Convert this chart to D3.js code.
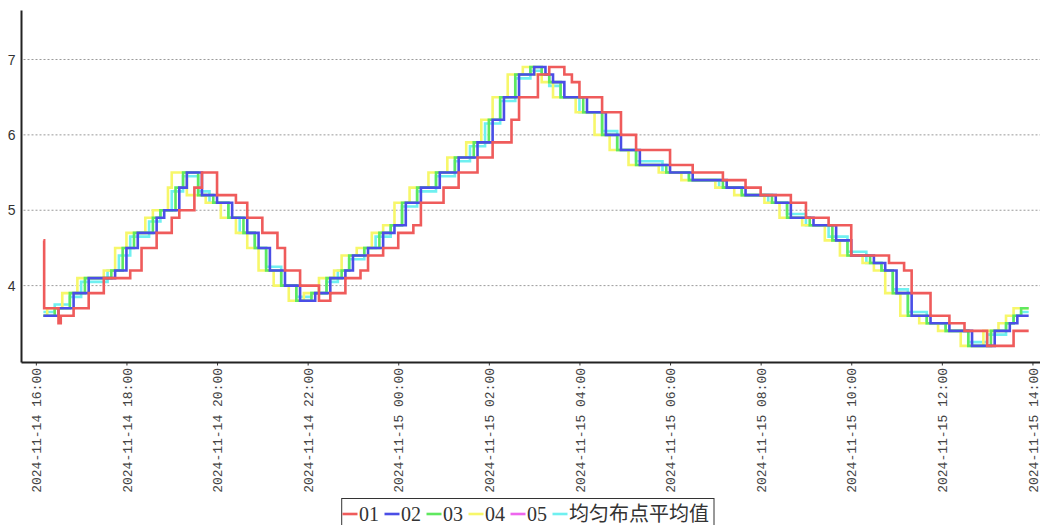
<!DOCTYPE html>
<html>
<head>
<meta charset="utf-8">
<script src="https://cdn.jsdelivr.net/npm/d3@7"></script>
<style>
  html, body { margin: 0; padding: 0; background: #fff; }
  svg { display: block; }
</style>
</head>
<body>
<div id="chart"></div>
<script>
// Series names and colours (legend order)
const seriesNames = ["01", "02", "03", "04", "05", "均匀布点平均值"];
const seriesColors = ["#ef5b5b", "#4a4ee6", "#5fe85f", "#f7f76a", "#ee66ee", "#6ff0f0"];

// Step breakpoints: ["day HH:MM", value]
const s01 = [
  ["14 16:10", 4.6], ["14 16:11", 3.7], ["14 16:30", 3.5], ["14 16:33", 3.6], ["14 16:50", 3.7],
  ["14 17:10", 3.9], ["14 17:30", 4.1], ["14 18:05", 4.2], ["14 18:20", 4.5], ["14 18:40", 4.7],
  ["14 19:00", 4.9], ["14 19:10", 5.0], ["14 19:30", 5.3], ["14 19:40", 5.5], ["14 20:00", 5.2],
  ["14 20:25", 5.1], ["14 20:40", 4.9], ["14 21:00", 4.7], ["14 21:20", 4.5], ["14 21:30", 4.2],
  ["14 21:50", 4.0], ["14 22:15", 3.8], ["14 22:30", 3.9], ["14 22:50", 4.1], ["14 23:10", 4.2],
  ["14 23:20", 4.4], ["14 23:40", 4.5], ["15 00:00", 4.7], ["15 00:20", 4.8], ["15 00:30", 5.1],
  ["15 01:00", 5.3], ["15 01:20", 5.5], ["15 01:45", 5.7], ["15 02:05", 5.9], ["15 02:30", 6.2],
  ["15 02:40", 6.5], ["15 03:05", 6.8], ["15 03:20", 6.9], ["15 03:40", 6.8], ["15 03:50", 6.7],
  ["15 04:00", 6.5], ["15 04:30", 6.3], ["15 04:55", 6.0], ["15 05:15", 5.8], ["15 06:00", 5.6],
  ["15 06:30", 5.5], ["15 07:10", 5.4], ["15 07:40", 5.3], ["15 08:00", 5.2], ["15 08:40", 5.1],
  ["15 09:00", 4.9], ["15 09:30", 4.8], ["15 10:00", 4.4], ["15 10:50", 4.3], ["15 11:10", 4.2],
  ["15 11:20", 3.9], ["15 11:45", 3.6], ["15 12:10", 3.5], ["15 12:30", 3.4], ["15 13:00", 3.2],
  ["15 13:35", 3.4], ["15 13:55", 3.4]
];
const s02 = [
  ["14 16:10", 3.6], ["14 16:30", 3.7], ["14 16:50", 3.9], ["14 17:10", 4.1], ["14 17:45", 4.2],
  ["14 18:00", 4.5], ["14 18:15", 4.7], ["14 18:40", 4.9], ["14 18:50", 5.0], ["14 19:10", 5.3],
  ["14 19:20", 5.5], ["14 19:40", 5.2], ["14 20:00", 5.1], ["14 20:20", 4.9], ["14 20:40", 4.7],
  ["14 20:55", 4.5], ["14 21:10", 4.2], ["14 21:30", 4.0], ["14 21:50", 3.8], ["14 22:10", 3.9],
  ["14 22:30", 4.1], ["14 22:50", 4.2], ["14 23:00", 4.4], ["14 23:20", 4.5], ["14 23:40", 4.7],
  ["14 23:55", 4.8], ["15 00:10", 5.1], ["15 00:30", 5.3], ["15 00:55", 5.5], ["15 01:20", 5.7],
  ["15 01:45", 5.9], ["15 02:05", 6.2], ["15 02:20", 6.5], ["15 02:40", 6.8], ["15 03:00", 6.9],
  ["15 03:15", 6.8], ["15 03:25", 6.7], ["15 03:40", 6.5], ["15 04:10", 6.3], ["15 04:35", 6.0],
  ["15 04:55", 5.8], ["15 05:20", 5.6], ["15 06:00", 5.5], ["15 06:30", 5.4], ["15 07:15", 5.3],
  ["15 07:40", 5.2], ["15 08:20", 5.1], ["15 08:40", 4.9], ["15 09:10", 4.8], ["15 09:40", 4.6],
  ["15 10:00", 4.4], ["15 10:30", 4.3], ["15 10:45", 4.2], ["15 11:00", 3.9], ["15 11:20", 3.6],
  ["15 11:45", 3.5], ["15 12:10", 3.4], ["15 12:40", 3.2], ["15 13:10", 3.4], ["15 13:30", 3.5],
  ["15 13:40", 3.6], ["15 13:55", 3.6]
];
const s03 = [
  ["14 16:10", 3.6], ["14 16:25", 3.7], ["14 16:45", 3.9], ["14 17:05", 4.1], ["14 17:40", 4.2],
  ["14 17:55", 4.5], ["14 18:10", 4.7], ["14 18:35", 4.9], ["14 18:45", 5.0], ["14 19:05", 5.3],
  ["14 19:15", 5.5], ["14 19:35", 5.2], ["14 19:55", 5.1], ["14 20:15", 4.9], ["14 20:35", 4.7],
  ["14 20:50", 4.5], ["14 21:05", 4.2], ["14 21:25", 4.0], ["14 21:45", 3.8], ["14 22:05", 3.9],
  ["14 22:25", 4.1], ["14 22:45", 4.2], ["14 22:55", 4.4], ["14 23:15", 4.5], ["14 23:35", 4.7],
  ["14 23:50", 4.8], ["15 00:05", 5.1], ["15 00:25", 5.3], ["15 00:50", 5.5], ["15 01:15", 5.7],
  ["15 01:40", 5.9], ["15 02:00", 6.2], ["15 02:15", 6.5], ["15 02:35", 6.8], ["15 02:55", 6.9],
  ["15 03:10", 6.8], ["15 03:20", 6.7], ["15 03:35", 6.5], ["15 04:05", 6.3], ["15 04:30", 6.0],
  ["15 04:50", 5.8], ["15 05:15", 5.6], ["15 05:55", 5.5], ["15 06:25", 5.4], ["15 07:10", 5.3],
  ["15 07:35", 5.2], ["15 08:15", 5.1], ["15 08:35", 4.9], ["15 09:05", 4.8], ["15 09:35", 4.6],
  ["15 09:55", 4.4], ["15 10:25", 4.3], ["15 10:40", 4.2], ["15 10:55", 3.9], ["15 11:15", 3.6],
  ["15 11:40", 3.5], ["15 12:05", 3.4], ["15 12:35", 3.2], ["15 13:05", 3.4], ["15 13:25", 3.5],
  ["15 13:35", 3.6], ["15 13:45", 3.7], ["15 13:55", 3.7]
];
const s04 = [
  ["14 16:10", 3.6], ["14 16:15", 3.7], ["14 16:35", 3.9], ["14 16:55", 4.1], ["14 17:30", 4.2],
  ["14 17:45", 4.5], ["14 18:00", 4.7], ["14 18:25", 4.9], ["14 18:35", 5.0], ["14 18:55", 5.3],
  ["14 19:00", 5.5], ["14 19:20", 5.2], ["14 19:45", 5.1], ["14 20:05", 4.9], ["14 20:25", 4.7],
  ["14 20:40", 4.5], ["14 20:55", 4.2], ["14 21:15", 4.0], ["14 21:35", 3.8], ["14 21:55", 3.9],
  ["14 22:15", 4.1], ["14 22:35", 4.2], ["14 22:45", 4.4], ["14 23:05", 4.5], ["14 23:25", 4.7],
  ["14 23:40", 4.8], ["14 23:55", 5.1], ["15 00:15", 5.3], ["15 00:40", 5.5], ["15 01:05", 5.7],
  ["15 01:30", 5.9], ["15 01:50", 6.2], ["15 02:05", 6.5], ["15 02:25", 6.8], ["15 02:45", 6.9],
  ["15 03:00", 6.8], ["15 03:10", 6.7], ["15 03:25", 6.5], ["15 03:55", 6.3], ["15 04:20", 6.0],
  ["15 04:40", 5.8], ["15 05:05", 5.6], ["15 05:45", 5.5], ["15 06:15", 5.4], ["15 07:00", 5.3],
  ["15 07:25", 5.2], ["15 08:05", 5.1], ["15 08:25", 4.9], ["15 08:55", 4.8], ["15 09:25", 4.6],
  ["15 09:45", 4.4], ["15 10:15", 4.3], ["15 10:30", 4.2], ["15 10:45", 3.9], ["15 11:05", 3.6],
  ["15 11:30", 3.5], ["15 11:55", 3.4], ["15 12:25", 3.2], ["15 12:55", 3.4], ["15 13:15", 3.5],
  ["15 13:25", 3.6], ["15 13:35", 3.7], ["15 13:55", 3.7]
];
const s05 = [];
const sAvg = [
  ["14 16:10", 3.65], ["14 16:25", 3.75], ["14 16:45", 3.85], ["14 17:00", 4.05], ["14 17:35", 4.2],
  ["14 17:50", 4.4], ["14 18:05", 4.65], ["14 18:30", 4.85], ["14 18:45", 5.0], ["14 19:00", 5.25],
  ["14 19:15", 5.45], ["14 19:35", 5.25], ["14 19:50", 5.1], ["14 20:15", 4.9], ["14 20:30", 4.7],
  ["14 20:50", 4.5], ["14 21:05", 4.25], ["14 21:25", 4.0], ["14 21:45", 3.85], ["14 22:05", 3.9],
  ["14 22:25", 4.05], ["14 22:40", 4.2], ["14 22:55", 4.35], ["14 23:15", 4.5], ["14 23:30", 4.65],
  ["14 23:50", 4.8], ["15 00:05", 5.05], ["15 00:25", 5.25], ["15 00:50", 5.45], ["15 01:15", 5.65],
  ["15 01:35", 5.85], ["15 01:55", 6.15], ["15 02:15", 6.45], ["15 02:35", 6.75], ["15 02:55", 6.85],
  ["15 03:10", 6.8], ["15 03:20", 6.65], ["15 03:35", 6.5], ["15 04:00", 6.3], ["15 04:30", 6.05],
  ["15 04:50", 5.8], ["15 05:15", 5.65], ["15 05:50", 5.5], ["15 06:25", 5.4], ["15 07:05", 5.3],
  ["15 07:35", 5.2], ["15 08:10", 5.1], ["15 08:35", 4.95], ["15 09:00", 4.8], ["15 09:30", 4.65],
  ["15 09:55", 4.45], ["15 10:20", 4.3], ["15 10:40", 4.2], ["15 10:55", 3.95], ["15 11:15", 3.65],
  ["15 11:40", 3.5], ["15 12:05", 3.4], ["15 12:35", 3.25], ["15 13:00", 3.35], ["15 13:25", 3.5],
  ["15 13:35", 3.6], ["15 13:45", 3.65], ["15 13:55", 3.65]
];
const allSeries = [s01, s02, s03, s04, s05, sAvg];

// Axis settings
const xStart = "14 15:41";
const xEnd = "15 14:10";
const yTicks = [4, 5, 6, 7];

const WIDTH = 1041, HEIGHT = 525;
const PLOT = { LEFT: 21.5, RIGHT: 1040, TOP: 10.5, BOTTOM: 362.5 };

const parseTime = d3.timeParse("%Y-%m-%d %H:%M");
const toDate = (s) => parseTime("2024-11-" + s);

const svg = d3.select("#chart").append("svg")
  .attr("width", WIDTH)
  .attr("height", HEIGHT);

const x = d3.scaleTime()
  .domain([toDate(xStart), toDate(xEnd)])
  .range([PLOT.LEFT, PLOT.RIGHT]);

const y = d3.scaleLinear()
  .domain([2.98, 7.65])
  .range([PLOT.BOTTOM, PLOT.TOP]);

// Grid lines
svg.append("g")
  .selectAll("line")
  .data(yTicks)
  .join("line")
    .attr("x1", PLOT.LEFT + 2)
    .attr("x2", PLOT.RIGHT)
    .attr("y1", (d) => y(d))
    .attr("y2", (d) => y(d))
    .attr("stroke", "#9a9a9a")
    .attr("stroke-width", 1)
    .attr("stroke-dasharray", "2,2");

// Y labels (no tick marks)
svg.append("g")
  .selectAll("text")
  .data(yTicks)
  .join("text")
    .attr("x", 15.5)
    .attr("y", (d) => y(d))
    .attr("dy", "0.36em")
    .attr("text-anchor", "end")
    .attr("font-family", "'Liberation Sans', Arial, sans-serif")
    .attr("font-size", 14)
    .attr("fill", "#333")
    .text((d) => d);

// Lines: average underneath, red on top
const line = d3.line()
  .x((d) => x(toDate(d[0])))
  .y((d) => y(d[1]))
  .curve(d3.curveStepAfter);

const drawOrder = [5, 3, 2, 4, 1, 0];
svg.append("g")
  .selectAll("path")
  .data(drawOrder.filter((i) => allSeries[i].length > 0))
  .join("path")
    .attr("fill", "none")
    .attr("stroke", (i) => seriesColors[i])
    .attr("stroke-width", 2.6)
    .attr("stroke-linejoin", "miter")
    .attr("d", (i) => line(allSeries[i]));

// X axis
const xAxis = d3.axisBottom(x)
  .ticks(d3.timeHour.every(2))
  .tickSize(3)
  .tickFormat(d3.timeFormat("%Y-%m-%d %H:%M"));

const xg = svg.append("g")
  .attr("transform", `translate(0,${PLOT.BOTTOM})`)
  .call(xAxis);
xg.select(".domain").remove();
xg.selectAll(".tick line").attr("stroke", "#333").attr("stroke-width", 1);
xg.selectAll(".tick text")
  .attr("transform", "rotate(-90)")
  .attr("x", -5.5)
  .attr("y", 0)
  .attr("dy", "0.35em")
  .attr("text-anchor", "end")
  .attr("font-family", "'Liberation Mono', 'DejaVu Sans Mono', monospace")
  .attr("font-size", 13)
  .attr("fill", "#444");

// Axis lines
svg.append("line")
  .attr("x1", PLOT.LEFT).attr("x2", PLOT.LEFT)
  .attr("y1", PLOT.TOP).attr("y2", PLOT.BOTTOM)
  .attr("stroke", "#222").attr("stroke-width", 2);
svg.append("line")
  .attr("x1", PLOT.LEFT).attr("x2", PLOT.RIGHT)
  .attr("y1", PLOT.BOTTOM).attr("y2", PLOT.BOTTOM)
  .attr("stroke", "#222").attr("stroke-width", 2);

// Legend
const legend = svg.append("g");
const legendBox = legend.append("rect")
  .attr("y", 498.5)
  .attr("height", 40)
  .attr("fill", "#fff")
  .attr("stroke", "#333")
  .attr("stroke-width", 1);

let cursor = 342.5;
seriesNames.forEach((name, i) => {
  legend.append("line")
    .attr("x1", cursor).attr("x2", cursor + 15)
    .attr("y1", 514).attr("y2", 514)
    .attr("stroke", seriesColors[i])
    .attr("stroke-width", 2.6);
  const t = legend.append("text")
    .attr("x", cursor + 16.5)
    .attr("y", 521)
    .attr("font-family", "'Liberation Serif', 'Noto Sans CJK SC', serif")
    .attr("font-size", 20)
    .attr("fill", "#333")
    .text(name);
  cursor += 16.5 + t.node().getComputedTextLength() + 5.5;
});
legendBox.attr("x", 341.7).attr("width", cursor - 341.7 - 0.5);
</script>
</body>
</html>
